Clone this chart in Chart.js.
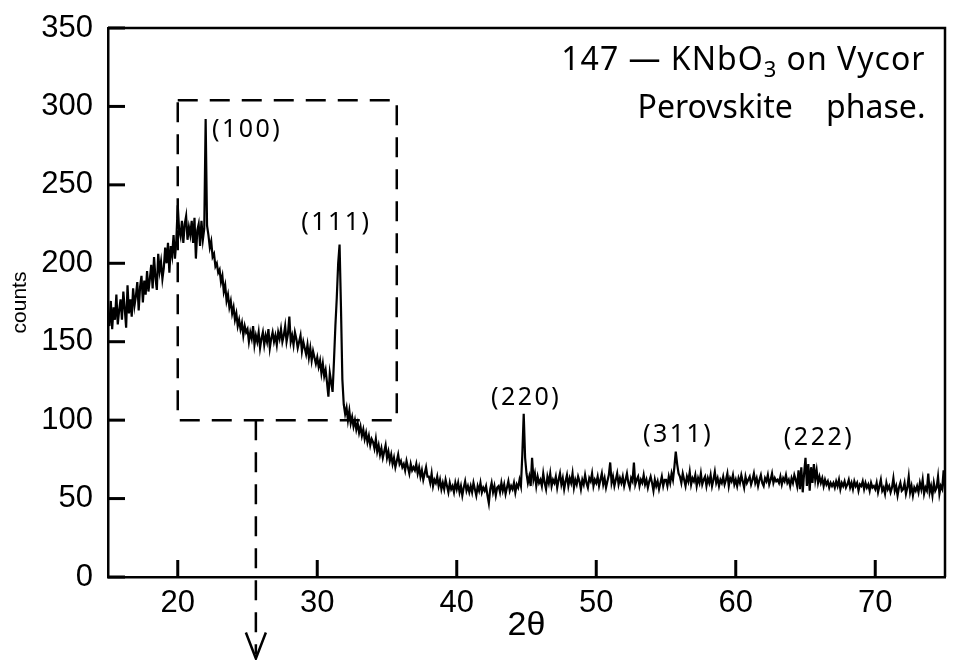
<!DOCTYPE html>
<html>
<head>
<meta charset="utf-8">
<script src="https://cdn.jsdelivr.net/npm/chart.js@4.4.1/dist/chart.umd.min.js"></script>
<style>
  html, body { margin: 0; padding: 0; background: #fff; }
  #wrap { width: 955px; height: 660px; }
</style>
</head>
<body>
<div id="wrap"><canvas id="xrd" width="955" height="660"></canvas></div>
<script>
// scan grid: 2theta from 15 to 75 in 0.1 degree steps
const startAngle = 15;
const angleStep = 0.1;

// counts, one row per degree
const counts = [
  168,160,176,158,172,164,180,161,170,177,   // 15
  164,182,171,159,186,168,177,166,184,173,   // 16
  179,188,170,185,192,175,189,180,195,182,   // 17
  190,199,184,204,191,183,206,195,201,190,   // 18
  197,210,200,213,194,211,205,218,203,215,   // 19
  237,221,217,227,213,225,230,215,223,218,   // 20
  227,213,229,203,221,225,211,227,215,222,   // 21
  292,224,218,210,214,204,206,198,200,194,   // 22
  196,188,192,182,186,176,180,172,176,168,   // 23
  172,164,168,160,164,158,162,154,160,156,   // 24
  158,150,156,152,160,148,154,150,156,146,   // 25
  152,156,148,154,150,158,146,152,156,150,   // 26
  154,148,156,152,158,150,154,160,150,155,   // 27
  166,150,154,148,156,152,146,150,154,144,   // 28
  150,146,142,148,140,146,138,144,140,136,   // 29
  140,134,138,130,136,128,132,124,115,130,   // 30
  124,118,138,160,178,200,212,172,126,110,   // 31
  104,108,100,106,98,102,96,100,94,98,       // 32
  92,96,90,94,88,92,86,90,84,88,             // 33
  86,82,88,80,84,78,82,76,80,84,             // 34
  76,80,74,78,72,76,70,74,78,72,             // 35
  74,70,72,68,74,70,66,72,68,70,             // 36
  68,72,66,70,64,68,62,66,70,64,             // 37
  64,60,66,58,62,60,64,58,62,56,             // 38
  60,56,62,58,54,60,56,58,54,60,             // 39
  56,60,54,58,52,57,61,55,58,54,             // 40
  58,54,60,56,52,58,55,60,54,57,             // 41
  55,58,52,47,56,60,54,58,52,57,             // 42
  58,54,60,55,59,53,57,61,55,58,             // 43
  56,60,54,59,57,62,58,78,104,76,            // 44
  66,60,64,58,76,62,66,58,64,60,             // 45
  62,58,66,60,56,64,60,66,58,62,             // 46
  60,64,57,62,66,59,63,56,61,65,             // 47
  58,63,60,66,57,62,59,64,61,56,             // 48
  62,59,65,60,57,63,61,66,58,62,             // 49
  60,64,58,62,66,59,63,57,61,65,             // 50
  73,60,64,58,62,66,59,63,60,64,             // 51
  58,62,66,60,57,63,61,73,59,62,             // 52
  64,58,62,60,65,59,62,57,61,64,             // 53
  60,55,62,58,61,56,60,64,58,62,             // 54
  62,58,64,60,66,62,70,80,72,66,             // 55
  64,60,66,62,58,64,61,67,59,63,             // 56
  61,65,58,63,60,66,59,62,64,58,             // 57
  63,60,65,58,62,67,60,63,58,62,             // 58
  60,64,59,62,66,58,63,61,65,59,             // 59
  62,58,63,60,65,61,57,64,60,62,             // 60
  64,59,62,66,60,63,58,62,65,60,             // 61
  58,63,61,65,59,62,66,60,63,61,             // 62
  62,60,64,59,63,61,65,60,62,58,             // 63
  63,60,65,62,58,68,56,70,54,66,             // 64
  76,58,72,55,70,60,72,62,68,60,             // 65
  64,60,63,58,62,59,61,57,60,58,             // 66
  60,57,61,58,62,56,60,58,61,57,             // 67
  59,62,57,60,56,61,58,60,55,59,             // 68
  58,61,56,60,57,59,55,60,57,58,             // 69
  56,60,54,58,62,55,57,53,60,56,             // 70
  58,54,57,63,55,58,52,57,60,55,             // 71
  56,60,53,57,64,54,58,52,57,55,             // 72
  58,54,60,56,62,53,57,55,66,54,             // 73
  58,52,60,55,57,64,53,58,56,68,             // 74
  56                                         // 75
];

const xTicks = [20, 30, 40, 50, 60, 70];
const yTicks = [0, 50, 100, 150, 200, 250, 300, 350];

// Miller indices of the reflections and where their labels sit (2theta, counts)
const peakLabels = ["(100)", "(111)", "(220)", "(311)", "(222)"];
const peakLabelX = [24.9, 31.3, 44.9, 55.8, 65.9];
const peakLabelY = [285, 226, 114, 90.5, 89];

// dashed region of interest, and the arrow dropping out of it
const boxX = [20, 35.7];
const boxY = [100, 304];
const arrowX = 25.6;
const arrowTipY = -52;

const points = counts.map((c, i) => ({ x: +(startAngle + i * angleStep).toFixed(1), y: c }));

// closed frame with tick marks pointing inwards
const frame = {
    id: 'frame',
    afterDraw(chart) {
        const { ctx, chartArea: a, scales: { x, y } } = chart;
        ctx.save();
        ctx.strokeStyle = '#000';
        ctx.fillStyle = '#000';
        ctx.lineWidth = 2.5;
        ctx.beginPath();
        ctx.moveTo(a.left, a.top);
        ctx.lineTo(a.right, a.top);
        ctx.lineTo(a.right, a.bottom);
        ctx.stroke();
        xTicks.forEach(v => {
            const px = x.getPixelForValue(v);
            ctx.fillRect(px - 1.5, a.bottom - 17, 3, 17);
        });
        yTicks.forEach(v => {
            const py = y.getPixelForValue(v);
            ctx.fillRect(a.left, py - 1.5, 17, 3);
        });
        ctx.restore();
    }
};

const annotate = {
    id: 'annotate',
    afterDraw(chart) {
        const { ctx, scales: { x, y } } = chart;
        ctx.save();
        ctx.strokeStyle = '#000';
        ctx.fillStyle = '#000';

        // dashed box + arrow
        const l = x.getPixelForValue(boxX[0]), r = x.getPixelForValue(boxX[1]);
        const b = y.getPixelForValue(boxY[0]), t = y.getPixelForValue(boxY[1]);
        const ax = x.getPixelForValue(arrowX), tip = y.getPixelForValue(arrowTipY);
        ctx.lineWidth = 2.5;
        ctx.setLineDash([20, 12]);
        ctx.beginPath();
        ctx.rect(l, t, r - l, b - t);
        ctx.moveTo(ax, b);
        ctx.lineTo(ax, tip - 4);
        ctx.stroke();
        ctx.setLineDash([]);
        ctx.beginPath();
        ctx.moveTo(ax - 10, tip - 26);
        ctx.lineTo(ax, tip);
        ctx.lineTo(ax + 10, tip - 26);
        ctx.stroke();

        // peak labels
        ctx.font = '25px "Noto Sans"';
        ctx.letterSpacing = '2.5px';
        ctx.textAlign = 'center';
        ctx.textBaseline = 'middle';
        peakLabels.forEach((txt, i) => {
            ctx.fillText(txt, x.getPixelForValue(peakLabelX[i]) + 1, y.getPixelForValue(peakLabelY[i]));
        });

        // sample caption, right aligned
        const right = x.getPixelForValue(73.6);
        const base1 = y.getPixelForValue(323);
        const base2 = y.getPixelForValue(292.5);
        const big = '32px "Noto Sans"', sub = '22px "Noto Sans"';
        const parts = [
            { text: '147 \u2014 KNbO', font: big, dy: 0 },
            { text: '3', font: sub, dy: 7 },
            { text: ' on Vycor', font: big, dy: 0 }
        ];
        ctx.letterSpacing = '1px';
        ctx.textAlign = 'left';
        ctx.textBaseline = 'alphabetic';
        let w = 0;
        parts.forEach(p => { ctx.font = p.font; w += ctx.measureText(p.text).width; });
        let cx = right - w;
        parts.forEach(p => {
            ctx.font = p.font;
            ctx.fillText(p.text, cx, base1 + p.dy);
            cx += ctx.measureText(p.text).width;
        });
        ctx.letterSpacing = '0px';
        ctx.font = big;
        ctx.textAlign = 'right';
        ctx.fillText('Perovskite    phase.', right, base2);
        ctx.restore();
    }
};

const chart = new Chart(document.getElementById('xrd').getContext('2d'), {
    type: 'line',
    data: {
        datasets: [{
            data: points,
            borderColor: '#000',
            borderWidth: 2.2,
            pointRadius: 0,
            tension: 0,
            fill: false
        }]
    },
    options: {
        responsive: false,
        animation: false,
        layout: { padding: { left: 0, right: 10, top: 28, bottom: 0 } },
        plugins: { legend: { display: false }, tooltip: { enabled: false } },
        scales: {
            x: {
                type: 'linear',
                min: 15,
                max: 75,
                afterBuildTicks: s => { s.ticks = xTicks.map(v => ({ value: v })); },
                afterFit: s => { s.height = 83; s.paddingLeft = 0; s.paddingRight = 0; },
                grid: { display: false, drawTicks: false },
                border: { display: true, color: '#000', width: 2.5 },
                ticks: { color: '#000', padding: 8, maxRotation: 0, font: { family: 'Liberation Sans', size: 31 } },
                title: { display: true, text: '2\u03b8', color: '#000', padding: { top: 0, bottom: 14 }, font: { family: 'Liberation Sans', size: 34 } }
            },
            y: {
                min: 0,
                max: 350,
                afterBuildTicks: s => { s.ticks = yTicks.map(v => ({ value: v })); },
                afterFit: s => { s.width = 108; s.paddingTop = 0; s.paddingBottom = 0; },
                grid: { display: false, drawTicks: false },
                border: { display: true, color: '#000', width: 2.5 },
                ticks: { color: '#000', padding: 15, font: { family: 'Liberation Sans', size: 31 } },
                title: { display: true, text: 'counts', color: '#000', padding: { top: 8, bottom: 0 }, font: { family: 'Liberation Sans', size: 21 } }
            }
        }
    },
    plugins: [frame, annotate]
});
</script>
</body>
</html>
